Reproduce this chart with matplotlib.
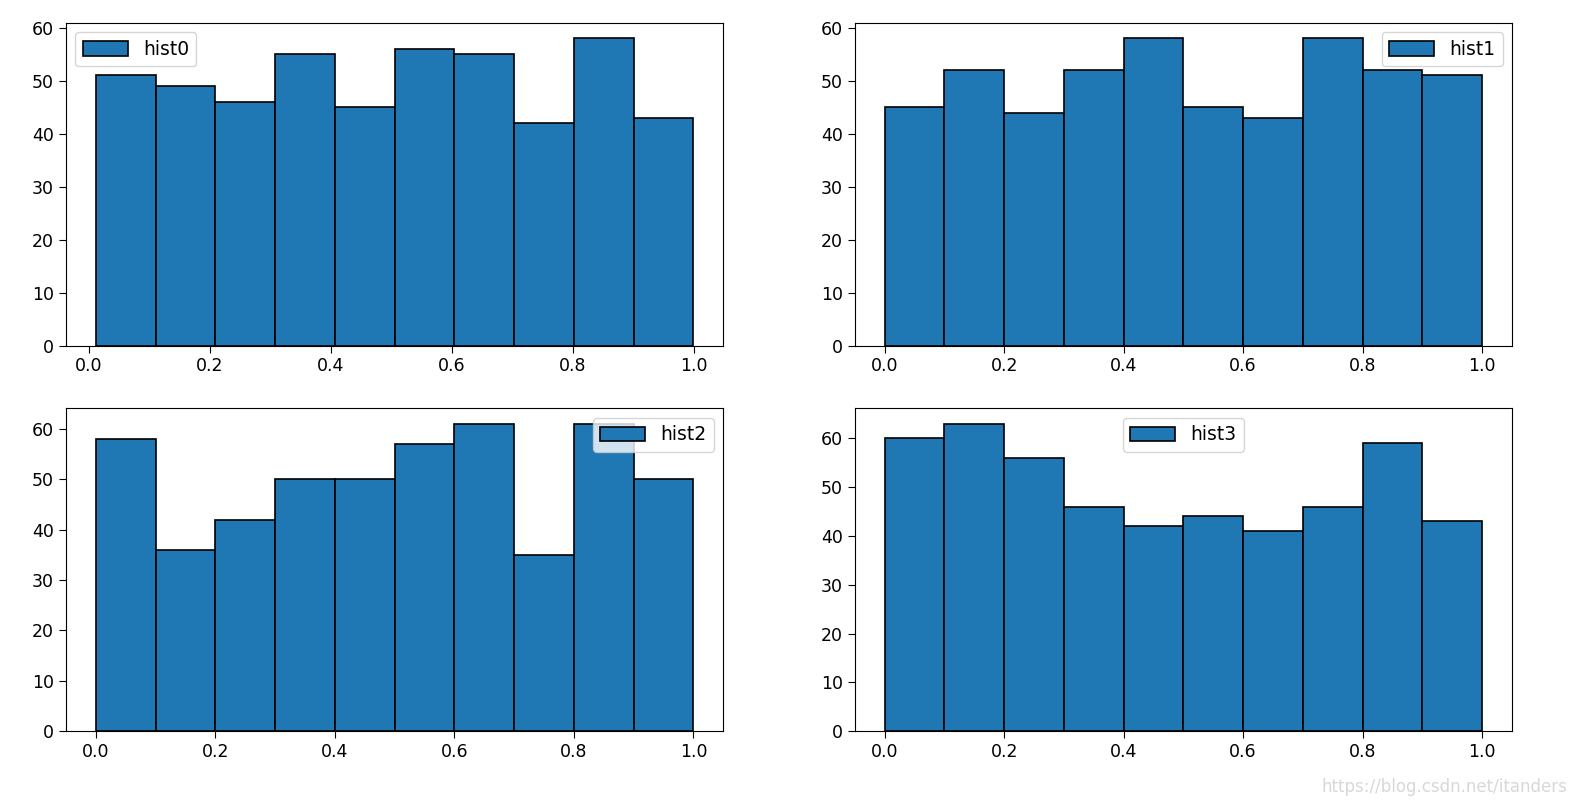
import matplotlib
matplotlib.use("Agg")
import matplotlib.pyplot as plt
import numpy as np

# Liczebności w przedziałach dla czterech histogramów
labels = ["hist0", "hist1", "hist2", "hist3"]
counts0 = [51, 49, 46, 55, 45, 56, 55, 42, 58, 43]
counts1 = [45, 52, 44, 52, 58, 45, 43, 58, 52, 51]
counts2 = [58, 36, 42, 50, 50, 57, 61, 35, 61, 50]
counts3 = [60, 63, 56, 46, 42, 44, 41, 46, 59, 43]

# Zakresy danych (min, max) dla każdego histogramu
ranges = [(0.012, 0.999), (0.0, 1.0), (0.0, 1.0), (0.0, 1.0)]
legend_locs = ["upper left", "upper right", "upper right", "upper center"]

fig, axes = plt.subplots(2, 2, figsize=(15.94, 8.10), dpi=100)
fig.subplots_adjust(left=0.0414, right=0.9486, top=0.9716, bottom=0.0975,
                    wspace=0.2, hspace=0.195)

all_counts = [counts0, counts1, counts2, counts3]
for ax, counts, rng, label, loc in zip(axes.flat, all_counts, ranges, labels, legend_locs):
    edges = np.linspace(rng[0], rng[1], len(counts) + 1)
    centers = (edges[:-1] + edges[1:]) / 2
    ax.hist(centers, bins=edges, weights=counts, color="#1f77b4",
            edgecolor="black", linewidth=1.2, label=label)
    ax.legend(loc=loc, fontsize=13.5, handlelength=2.4, handleheight=0.8)
    ax.tick_params(labelsize=12.5, length=5)
    ax.set_yticks(range(0, 61, 10))

fig.text(0.983, 0.017, "https://blog.csdn.net/itanders", ha="right", va="bottom",
         fontsize=12, color="#d8d8d8")

plt.savefig("out.png", dpi=100)
